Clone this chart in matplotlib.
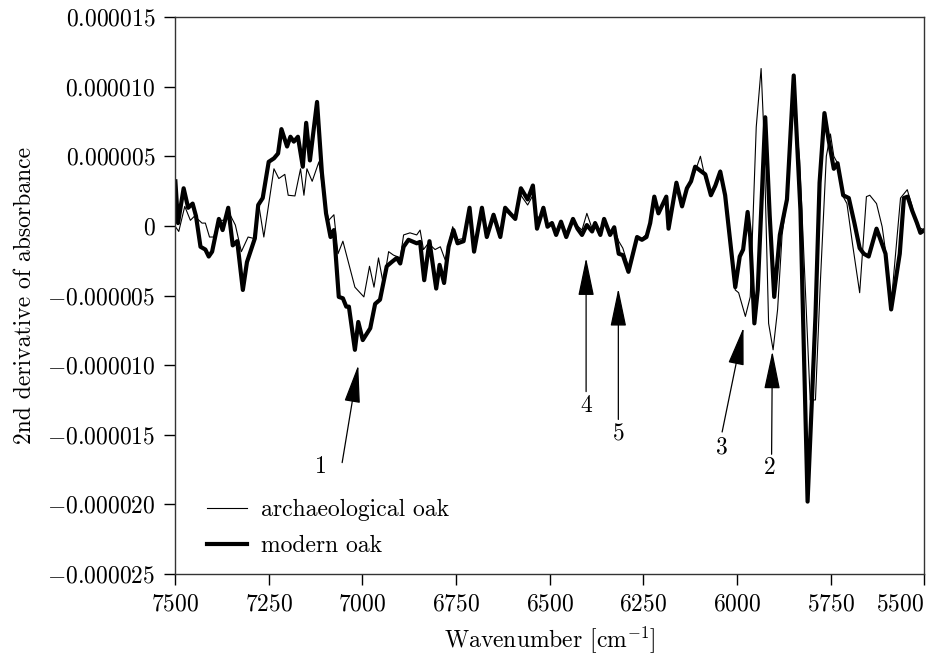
import numpy as np
import matplotlib
matplotlib.use("Agg")
import matplotlib.pyplot as plt

# second derivative spectra, values in units of 1e-6
WN_MODERN = [7499, 7492, 7477, 7465, 7453, 7444, 7432, 7419, 7410, 7401, 7383, 7373,
             7358, 7346, 7334, 7319, 7308, 7287, 7278, 7266, 7250, 7236, 7225, 7216,
             7201, 7192, 7183, 7172, 7159, 7150, 7140, 7121, 7108, 7097, 7085, 7076,
             7063, 7052, 7043, 7036, 7020, 7011, 6999, 6979, 6966, 6953, 6935, 6922,
             6908, 6899, 6890, 6877, 6855, 6846, 6835, 6821, 6803, 6794, 6782, 6770,
             6757, 6746, 6730, 6714, 6702, 6681, 6668, 6650, 6632, 6619, 6606, 6592,
             6577, 6559, 6545, 6534, 6517, 6506, 6494, 6483, 6470, 6456, 6438, 6426,
             6414, 6401, 6387, 6379, 6365, 6355, 6339, 6328, 6316, 6305, 6290, 6267,
             6254, 6242, 6232, 6221, 6210, 6189, 6183, 6162, 6147, 6134, 6123, 6112,
             6100, 6085, 6070, 6058, 6045, 6032, 6018, 6005, 5993, 5984, 5972, 5965,
             5954, 5945, 5925, 5913, 5901, 5886, 5876, 5867, 5849, 5831, 5812, 5791,
             5780, 5767, 5756, 5742, 5732, 5717, 5702, 5687, 5673, 5662, 5649, 5628,
             5604, 5589, 5566, 5555, 5545, 5533, 5520, 5511, 5500]
MODERN = [3.2, 0.2, 2.7, 1.3, 1.6, 0.7, -1.5, -1.7, -2.2, -1.85, 0.5, -0.3,
          1.3, -1.4, -1.1, -4.6, -2.6, -0.9, 1.5, 2.0, 4.6, 4.85, 5.2, 6.95,
          5.7, 6.4, 6.05, 6.4, 4.25, 7.4, 4.7, 8.9, 3.8, 0.9, -0.8, -0.3,
          -5.1, -5.2, -5.8, -5.8, -8.9, -6.9, -8.2, -7.35, -5.6, -5.3, -2.9, -2.6,
          -2.3, -2.7, -1.5, -1.0, -1.25, -1.15, -3.9, -1.1, -4.5, -2.8, -4.1, -1.5,
          -0.3, -1.25, -1.1, 1.3, -1.85, 1.3, -0.8, 0.8, -0.8, 1.3, 0.9, 0.5,
          2.7, 1.9, 2.9, -0.2, 1.3, -0.06, 0.2, -0.65, 0.3, -0.8, 0.5, -0.2,
          -0.65, 0.06, -0.4, 0.2, -0.65, 0.5, -0.65, -0.1, -2.0, -2.1, -3.3, -0.8,
          -1.0, -0.8, 0.2, 2.1, 0.9, 2.1, -0.2, 3.1, 1.4, 2.7, 3.2, 4.25,
          4.0, 3.7, 2.2, 2.9, 3.9, 2.2, -1.25, -4.4, -2.2, -1.7, 1.0, -0.8,
          -7.0, -4.6, 7.8, 0.7, -5.1, -0.65, 0.7, 1.9, 10.8, 1.1, -19.8, -6.5,
          3.1, 8.1, 6.2, 4.1, 4.5, 2.2, 2.0, 0.2, -1.6, -2.0, -2.2, -0.2,
          -2.0, -6.0, -2.0, 2.0, 2.1, 1.1, 0.2, -0.5, -0.3]

WN_ARCH = [7499, 7490, 7474, 7459, 7448, 7428, 7419, 7408, 7397, 7383, 7366, 7355,
           7339, 7323, 7305, 7290, 7277, 7263, 7236, 7223, 7207, 7198, 7180, 7165,
           7156, 7148, 7134, 7116, 7103, 7090, 7076, 7065, 7052, 7020, 6996, 6981,
           6969, 6957, 6944, 6930, 6917, 6899, 6890, 6873, 6855, 6846, 6837, 6824,
           6806, 6792, 6779, 6759, 6746, 6730, 6714, 6702, 6681, 6668, 6650, 6632,
           6619, 6606, 6592, 6577, 6559, 6545, 6534, 6517, 6506, 6494, 6483, 6470,
           6456, 6438, 6426, 6414, 6401, 6387, 6379, 6365, 6355, 6339, 6328, 6316,
           6305, 6290, 6267, 6254, 6242, 6232, 6221, 6210, 6189, 6183, 6162, 6147,
           6134, 6112, 6098, 6085, 6070, 6058, 6045, 6032, 6018, 6005, 5996, 5978,
           5965, 5949, 5936, 5929, 5916, 5904, 5892, 5880, 5867, 5849, 5833, 5818,
           5805, 5791, 5778, 5762, 5751, 5742, 5732, 5717, 5707, 5691, 5673, 5655,
           5646, 5628, 5613, 5602, 5589, 5564, 5546, 5533, 5520, 5500]
ARCH = [-0.06, -0.4, 1.4, 0.4, 0.7, 0.2, 0.2, -0.8, -0.8, 0.4, 0.4, 0.9,
        0.06, -1.85, -0.8, -0.9, 1.6, -0.8, 4.1, 3.4, 3.7, 2.2, 2.15, 4.1,
        2.2, 4.1, 3.2, 4.6, 2.1, 0.4, 0.8, -2.0, -1.1, -4.4, -5.1, -2.9,
        -4.4, -2.3, -4.2, -1.85, -2.1, -2.3, -0.65, -0.5, -0.65, -0.3, -1.7, -1.25,
        -1.7, -1.5, -2.45, -0.06, -1.0, -0.9, 0.9, -1.4, 1.2, -0.5, 0.7, -0.5,
        1.1, 0.8, 0.6, 2.2, 1.5, 2.2, 0.5, 1.0, 0.1, 0.3, -0.4, 0.4,
        -0.5, 0.4, 0.0, -0.3, 0.9, -0.2, 0.3, -0.5, 0.4, -0.4, -0.2, -1.1,
        -1.6, -2.9, -0.9, -0.9, -0.6, 0.3, 2.0, 1.0, 2.0, 0.2, 2.8, 1.6,
        2.5, 3.9, 5.0, 3.4, 2.3, 2.7, 4.0, 2.4, -1.2, -4.6, -4.8, -6.5,
        -5.1, 7.1, 11.3, 6.9, -7.0, -8.9, -6.0, -0.65, 1.9, 9.3, 4.7, -4.6,
        -12.5, -12.5, -4.1, 5.0, 6.6, 5.0, 4.5, 2.1, 1.6, -1.5, -4.8, 2.1,
        2.2, 1.6, -0.06, -2.2, -5.6, 2.0, 2.6, 1.4, -0.06, -0.3]

# band labels: (label, arrow tip, arrow tail, label position), y in 1e-6
BANDS = [("1", (7011, -10.0), (7054, -17.0), (7113, -17.3)),
         ("4", (6403, -2.3), (6403, -11.9), (6403, -12.9)),
         ("5", (6317, -4.5), (6317, -13.9), (6317, -14.9)),
         ("3", (5983, -7.3), (6040, -14.8), (6042, -15.9)),
         ("2", (5906, -9.0), (5908, -16.4), (5914, -17.4))]

YTICKS = [-25, -20, -15, -10, -5, 0, 5, 10, 15]
YTICKLABELS = ["$-0.000025$", "$-0.000020$", "$-0.000015$", "$-0.000010$",
               "$-0.000005$", "$0$", "$0.000005$", "$0.000010$", "$0.000015$"]
XTICKS = [7500, 7250, 7000, 6750, 6500, 6250, 6000, 5750, 5500]

plt.rcParams["font.family"] = "serif"
plt.rcParams["font.serif"] = ["cmr10", "DejaVu Serif"]
plt.rcParams["mathtext.fontset"] = "cm"
plt.rcParams["axes.formatter.use_mathtext"] = True

fig = plt.figure(figsize=(9.27, 6.54), dpi=100)
ax = fig.add_axes([0.1888, 0.1223, 0.8085, 0.8517])

sc = 1e-6
ax.plot(WN_ARCH, np.array(ARCH) * sc, color="black", lw=0.8,
        label="archaeological oak")
ax.plot(WN_MODERN, np.array(MODERN) * sc, color="black", lw=3.0,
        label="modern oak")

for lab, tip, tail, pos in BANDS:
    ax.annotate("", xy=(tip[0], tip[1] * sc), xytext=(tail[0], tail[1] * sc),
                arrowprops=dict(arrowstyle="-|>,head_length=1.2,head_width=0.25",
                                color="black", lw=0.9, shrinkA=0, shrinkB=0,
                                mutation_scale=20))
    ax.text(pos[0], pos[1] * sc, "$%s$" % lab, fontsize=17, ha="center",
            va="center")

ax.set_xlim(7500, 5500)
ax.set_ylim(-25e-6, 15e-6)
ax.set_xticks(XTICKS)
ax.set_xticklabels(["$%d$" % t for t in XTICKS])
ax.get_xticklabels()[-1].set_horizontalalignment("right")
ax.set_yticks(np.array(YTICKS) * sc)
ax.set_yticklabels(YTICKLABELS)
ax.tick_params(direction="out", length=8, width=1, labelsize=17, pad=6,
               top=False, right=False)
for sp in ax.spines.values():
    sp.set_color("#333333")
    sp.set_linewidth(1.0)

ax.set_xlabel("Wavenumber [cm$^{-1}$]", fontsize=17, labelpad=6)
ax.set_ylabel("2nd derivative of absorbance", fontsize=17, labelpad=8)

ax.legend(loc="lower left", frameon=False, fontsize=17, handlelength=1.7,
          handletextpad=0.6, labelspacing=0.6, borderaxespad=0.3,
          bbox_to_anchor=(0.02, 0.0))

fig.savefig("out.png", dpi=100)
